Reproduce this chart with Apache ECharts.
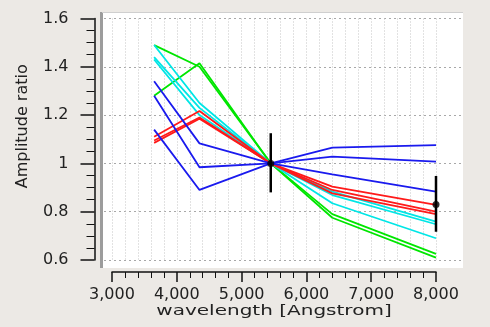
<!DOCTYPE html>
<html>
<head>
<meta charset="utf-8">
<script src="https://cdn.jsdelivr.net/npm/echarts@6/dist/echarts.min.js"></script>
<style>
  html, body { margin: 0; padding: 0; background: #ece9e5; }
  #chart { width: 490px; height: 327px; }
</style>
</head>
<body>
<div id="chart"></div>
<script>
// wavelengths of the filters (Angstrom)
var wavelengths = [3650, 4350, 5450, 6400, 8000];

// amplitude ratios, one array per curve
var greenCurves = [
    [1.49, 1.40, 1.0, 0.79, 0.625],
    [1.28, 1.415, 1.0, 0.775, 0.61]
];
var cyanCurves = [
    [1.49, 1.25, 1.0, 0.883, 0.759],
    [1.44, 1.23, 1.0, 0.869, 0.748],
    [1.43, 1.20, 1.0, 0.835, 0.69]
];
var redCurves = [
    [1.11, 1.217, 1.0, 0.904, 0.828],
    [1.095, 1.19, 1.0, 0.89, 0.80],
    [1.085, 1.185, 1.0, 0.876, 0.79]
];
var blueCurves = [
    [1.14, 0.89, 1.0, 1.065, 1.076],
    [1.28, 0.984, 1.0, 1.028, 1.007],
    [1.34, 1.083, 1.0, 0.955, 0.883]
];

// measured points with error bars: wavelength, value, low, high
var errWave = [5450, 8000];
var errValue = [1.0, 0.83];
var errLow = [0.88, 0.717];
var errHigh = [1.125, 0.948];

var xTicks = [3000, 4000, 5000, 6000, 7000, 8000];
var yTicks = [0.6, 0.8, 1, 1.2, 1.4, 1.6];

var xName = 'wavelength [Angstrom]';
var yName = 'Amplitude ratio';

var colors = {green: '#00e600', cyan: '#00e6e6', red: '#ff1a1a', blue: '#1a1aee'};

function toPoints(vals) {
    return wavelengths.map(function (w, i) { return [w, vals[i]]; });
}

var series = [];
function addCurves(list, color) {
    for (var i = 0; i < list.length; i++) {
        series.push({
            type: 'line',
            xAxisIndex: 0,
            yAxisIndex: 0,
            data: toPoints(list[i]),
            showSymbol: false,
            symbol: 'none',
            lineStyle: {color: color, width: 1.8},
            silent: true,
            z: 3
        });
    }
}
addCurves(greenCurves, colors.green);
addCurves(cyanCurves, colors.cyan);
addCurves(redCurves, colors.red);
addCurves(blueCurves, colors.blue);

var errData = errWave.map(function (w, i) { return [w, errValue[i], errLow[i], errHigh[i]]; });
series.push({
    type: 'custom',
    xAxisIndex: 0,
    yAxisIndex: 0,
    z: 5,
    renderItem: function (params, api) {
        var p1 = api.coord([api.value(0), api.value(3)]);
        var p2 = api.coord([api.value(0), api.value(2)]);
        return {
            type: 'line',
            shape: {x1: p1[0], y1: p1[1], x2: p2[0], y2: p2[1]},
            style: {stroke: '#000', lineWidth: 2.5}
        };
    },
    data: errData
});
series.push({
    type: 'scatter',
    xAxisIndex: 0,
    yAxisIndex: 0,
    z: 6,
    symbolSize: 7,
    itemStyle: {color: '#000'},
    data: errWave.map(function (w, i) { return [w, errValue[i]]; })
});

var chart = echarts.init(document.getElementById('chart'), null, {renderer: 'canvas'});

var option = {
    backgroundColor: '#ece9e5',
    animation: false,
    textStyle: {fontFamily: 'DejaVu Sans'},
    graphic: [
        {type: 'rect', z: -10, shape: {x: 102, y: 12, width: 361, height: 256}, style: {fill: '#fff'}},
        {type: 'rect', z: -9, shape: {x: 100, y: 12, width: 3, height: 256}, style: {fill: '#9c9c9c'}},
        {type: 'line', z: -9, shape: {x1: 102, y1: 12.5, x2: 463, y2: 12.5}, style: {stroke: '#cfcfcf', lineWidth: 1}},
        // axis title drawn wide like the original
        {
            type: 'text', x: 274, y: 311, scaleX: 1.38, originX: 0, originY: 0,
            style: {text: xName, font: '14.5px "DejaVu Sans"', fill: '#222', align: 'center', verticalAlign: 'middle'}
        }
    ],
    grid: [
        {left: 112, right: 54, top: 18.5, bottom: 67},
        {left: 104, right: 28, top: 18.5, bottom: 67}
    ],
    xAxis: [
        {
            type: 'value', gridIndex: 0,
            min: xTicks[0], max: xTicks[xTicks.length - 1], interval: 1000,
            offset: 12,
            axisLine: {lineStyle: {color: '#111', width: 1.5}},
            axisTick: {inside: false, length: 10, lineStyle: {color: '#111', width: 1.5}},
            minorTick: {show: true, splitNumber: 5, length: 6, lineStyle: {color: '#111', width: 1}},
            axisLabel: {
                margin: 15, fontSize: 16, color: '#222',
                formatter: function (v) { return v.toLocaleString('en-US'); }
            },
            splitLine: {show: true, lineStyle: {color: '#c4c4c4', type: [1, 2], width: 1}},
            minorSplitLine: {show: true, lineStyle: {color: '#c4c4c4', type: [1, 2], width: 1}}
        },
        {
            type: 'value', gridIndex: 1, min: 0, max: 1, show: false
        }
    ],
    yAxis: [
        {
            type: 'value', gridIndex: 0,
            min: yTicks[0], max: yTicks[yTicks.length - 1], interval: 0.2,
            offset: 17.5,
            name: yName,
            nameLocation: 'middle',
            nameGap: 64,
            nameRotate: 90,
            nameTextStyle: {fontSize: 16, color: '#222', padding: [0, 0, 0, 26]},
            axisLine: {lineStyle: {color: '#111', width: 1.5}},
            axisTick: {inside: false, length: 14, lineStyle: {color: '#111', width: 1.5}},
            minorTick: {show: true, splitNumber: 4, length: 8, lineStyle: {color: '#111', width: 1}},
            axisLabel: {margin: 26, fontSize: 16, color: '#222'},
            splitLine: {show: false}
        },
        {
            type: 'value', gridIndex: 1,
            min: yTicks[0], max: yTicks[yTicks.length - 1], interval: 0.2,
            axisLine: {show: false}, axisTick: {show: false}, axisLabel: {show: false},
            splitLine: {show: true, lineStyle: {color: '#a8a8a8', type: [2, 3], width: 1}}
        }
    ],
    series: series
};

chart.setOption(option);
</script>
</body>
</html>
